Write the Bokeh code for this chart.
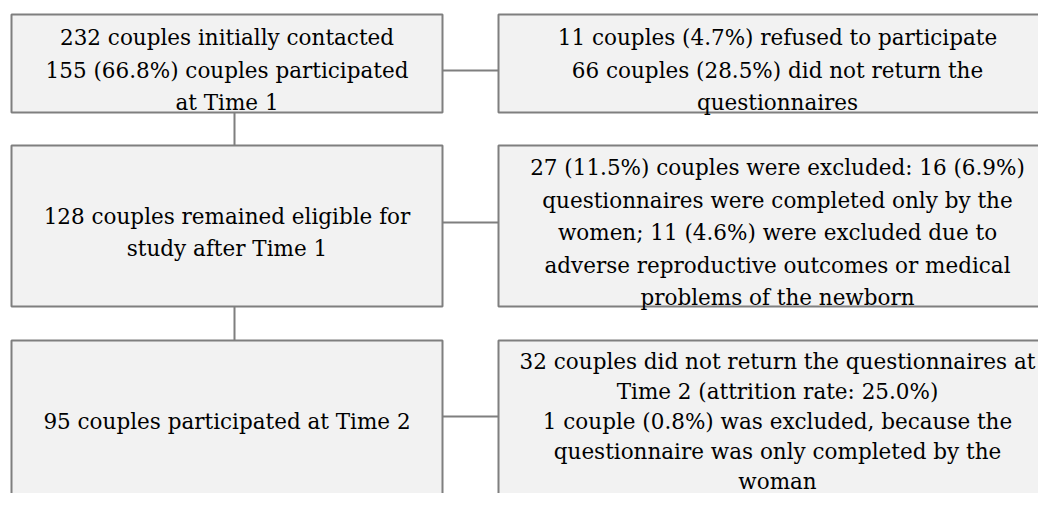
from bokeh.plotting import figure
from bokeh.models import Range1d, ColumnDataSource
from bokeh.core.properties import value
from bokeh.embed import file_html
from bokeh.resources import INLINE

# ---- content ----
left_texts = [
    ["232 couples initially contacted", "155 (66.8%) couples participated", "at Time 1"],
    ["128 couples remained eligible for", "study after Time 1"],
    ["95 couples participated at Time 2"],
]
right_texts = [
    ["11 couples (4.7%) refused to participate", "66 couples (28.5%) did not return the", "questionnaires"],
    ["27 (11.5%) couples were excluded: 16 (6.9%)", "questionnaires were completed only by the",
     "women; 11 (4.6%) were excluded due to", "adverse reproductive outcomes or medical",
     "problems of the newborn"],
    ["32 couples did not return the questionnaires at", "Time 2 (attrition rate: 25.0%)",
     "1 couple (0.8%) was excluded, because the", "questionnaire was only completed by the",
     "woman"],
]

# ---- layout (pixel space of the picture) ----
row_top = [14, 145, 340]
row_bottom = [112, 306, 520]
row_mid = [63, 225.5, 414]
row_line_h = [32.5, 32.5, 30]
left_x = (11, 442)
right_x = (498, 1068)
text_cx = [226.5, 777]
link_y = [70, 222, 416]
spine_x = 234
font_px = 21.5
baseline_shift = 6.5

W, H = 1038, 493
p = figure(width=W, height=H, output_backend="svg", toolbar_location=None,
           x_range=Range1d(0, W), y_range=Range1d(H, 0),
           min_border=0, background_fill_color="white", border_fill_color="white")
p.axis.visible = False
p.grid.visible = False
p.outline_line_color = None

# boxes
L, R, T, B = [], [], [], []
for i in range(3):
    for xs in (left_x, right_x):
        L.append(xs[0]); R.append(xs[1]); T.append(row_top[i]); B.append(row_bottom[i])
p.quad(left=L, right=R, top=T, bottom=B, fill_color="#f2f2f2",
       line_color="#7f7f7f", line_width=2)

# connectors
x0 = [left_x[1]] * 3 + [spine_x, spine_x]
x1 = [right_x[0]] * 3 + [spine_x, spine_x]
y0 = link_y + [row_bottom[0], row_bottom[1]]
y1 = link_y + [row_top[1], row_top[2]]
p.segment(x0=x0, y0=y0, x1=x1, y1=y1, line_color="#7f7f7f", line_width=2)

# texts
tx, ty, tt = [], [], []
for i in range(3):
    cy = row_mid[i]
    lh = row_line_h[i]
    for texts, cx in ((left_texts[i], text_cx[0]), (right_texts[i], text_cx[1])):
        n = len(texts)
        for k, t in enumerate(texts):
            tx.append(cx)
            ty.append(cy + (k - (n - 1) / 2) * lh + baseline_shift)
            tt.append(t)
src = ColumnDataSource(dict(x=tx, y=ty, text=tt))
p.text(x="x", y="y", text="text", source=src, text_align="center",
       text_baseline="alphabetic", text_font=value("DejaVu Serif"),
       text_font_size=f"{font_px}px", text_color="#000000")

open("out.html", "w").write(file_html(p, INLINE))
